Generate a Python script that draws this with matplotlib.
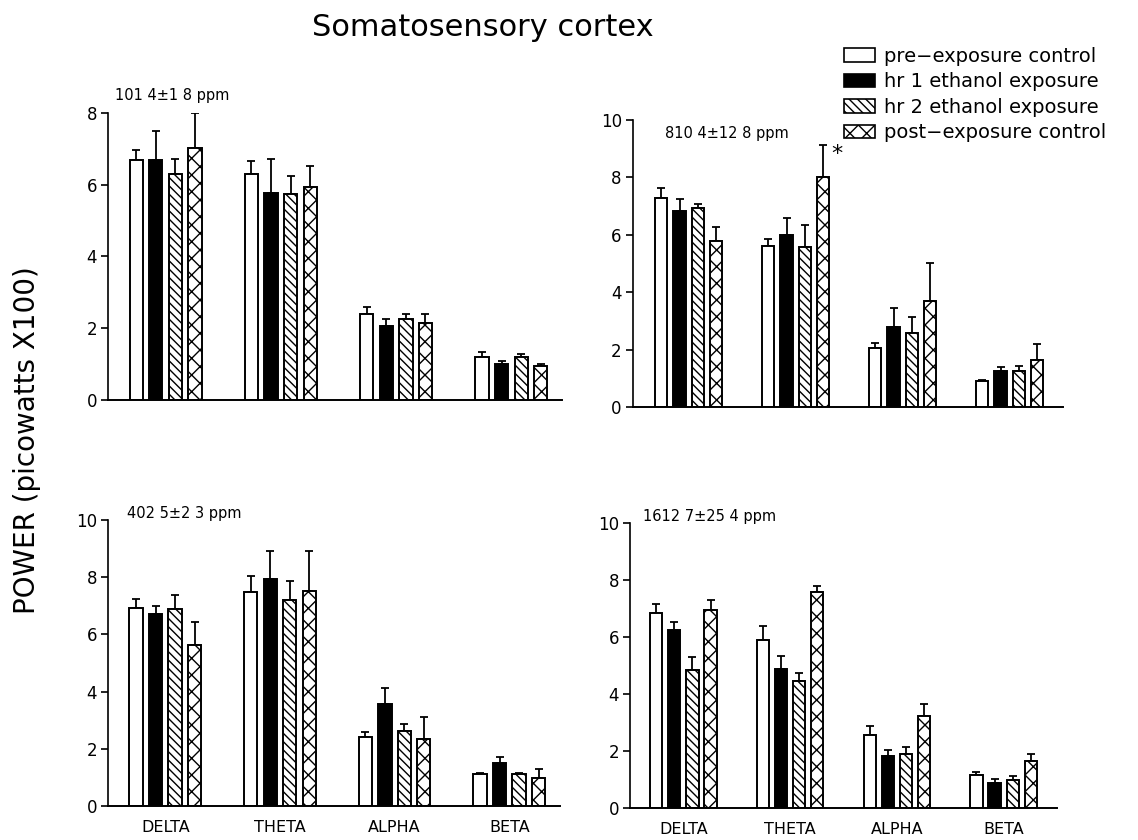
import numpy as np
import matplotlib
matplotlib.use('Agg')
import matplotlib.pyplot as plt
from matplotlib.patches import Patch

########## Data ##########
bands = ['DELTA', 'THETA', 'ALPHA', 'BETA']
conditions = ['pre\u2212exposure control', 'hr 1 ethanol exposure',
              'hr 2 ethanol exposure', 'post\u2212exposure control']
doses = ['101 4\u00b11 8 ppm', '810 4\u00b112 8 ppm', '402 5\u00b12 3 ppm', '1612 7\u00b125 4 ppm']

# mean (rows = condition, cols = band) and top of error bar
mean_101 = [[6.70, 6.29, 2.40, 1.21],
            [6.70, 5.77, 2.07, 0.99],
            [6.31, 5.73, 2.25, 1.21],
            [7.02, 5.93, 2.16, 0.95]]
top_101 = [[6.96, 6.67, 2.59, 1.34],
           [7.49, 6.73, 2.27, 1.10],
           [6.72, 6.23, 2.39, 1.28],
           [8.00, 6.51, 2.40, 0.99]]

mean_810 = [[7.29, 5.60, 2.07, 0.90],
            [6.83, 5.99, 2.78, 1.24],
            [6.94, 5.58, 2.59, 1.24],
            [5.78, 8.02, 3.70, 1.63]]
top_810 = [[7.62, 5.84, 2.23, 0.95],
           [7.24, 6.59, 3.45, 1.38],
           [7.07, 6.33, 3.14, 1.43],
           [6.26, 9.12, 5.02, 2.21]]

mean_402 = [[6.93, 7.47, 2.42, 1.11],
            [6.70, 7.93, 3.58, 1.49],
            [6.90, 7.19, 2.63, 1.12],
            [5.62, 7.53, 2.35, 0.99]]
top_402 = [[7.25, 8.05, 2.58, 1.15],
           [7.00, 8.92, 4.13, 1.72],
           [7.37, 7.88, 2.87, 1.14],
           [6.42, 8.92, 3.12, 1.28]]

mean_1612 = [[6.83, 5.91, 2.56, 1.15],
             [6.25, 4.88, 1.81, 0.88],
             [4.85, 4.44, 1.91, 0.97],
             [6.96, 7.59, 3.22, 1.64]]
top_1612 = [[7.17, 6.40, 2.89, 1.27],
            [6.54, 5.35, 2.05, 1.03],
            [5.30, 4.74, 2.13, 1.11],
            [7.31, 7.80, 3.66, 1.91]]

########## Style ##########
fills = ['white', 'black', 'white', 'white']
hatches = [None, None, '\\\\\\\\', 'xx']
plt.rcParams['hatch.linewidth'] = 1.0
plt.rcParams['font.family'] = 'DejaVu Sans'

########## Plot ##########
fig = plt.figure(figsize=(11.38, 8.4), dpi=100)

panels = [
    # rect, mean, top, ylim, yticks, dose label pos (axes fraction), xlim, band labels
    ([0.0949, 0.5238, 0.399, 0.3417], mean_101, top_101, 8, [0, 2, 4, 6, 8], doses[0], (0.016, 1.035), (-0.5, 3.44), False),
    ([0.5562, 0.5155, 0.378, 0.3417], mean_810, top_810, 10, [0, 2, 4, 6, 8, 10], doses[1], (0.075, 0.925), (-0.52, 3.5), False),
    ([0.0949, 0.0405, 0.397, 0.3405], mean_402, top_402, 10, [0, 2, 4, 6, 8, 10], doses[2], (0.042, 0.995), (-0.5, 3.44), True),
    ([0.5536, 0.0381, 0.3752, 0.3393], mean_1612, top_1612, 10, [0, 2, 4, 6, 8, 10], doses[3], (0.03, 0.995), (-0.5, 3.5), True),
]

x = np.arange(len(bands))
step = 0.17
width = 0.115

for rect, mean, top, ymax, yt, dose, dpos, xl, show_bands in panels:
    ax = fig.add_axes(rect)
    mean = np.array(mean)
    top = np.array(top)
    for k in range(len(conditions)):
        xx = x + (k - 1.5) * step
        ax.bar(xx, mean[k], width=width, color=fills[k], edgecolor='black',
               linewidth=1.4, hatch=hatches[k], zorder=2)
        ax.errorbar(xx, mean[k], yerr=[np.zeros(4), top[k] - mean[k]], fmt='none',
                    ecolor='black', elinewidth=1.3, capsize=3, capthick=1.3, zorder=1)
    ax.set_xlim(*xl)
    ax.set_ylim(0, ymax)
    ax.set_yticks(yt)
    ax.tick_params(axis='y', direction='out', length=5, width=1.2, labelsize=12, pad=3)
    if show_bands:
        ax.set_xticks(x)
        ax.set_xticklabels(bands, fontsize=11.5)
        ax.tick_params(axis='x', length=0, pad=10)
    else:
        ax.set_xticks([])
    for s in ['top', 'right']:
        ax.spines[s].set_visible(False)
    ax.spines['left'].set_linewidth(1.2)
    ax.spines['bottom'].set_linewidth(1.4)
    ax.text(dpos[0], dpos[1], dose, transform=ax.transAxes, fontsize=10.5,
            ha='left', va='bottom')
    if dose == doses[1]:
        ax.text(1 + 1.5 * step + 0.08, 8.45, '*', fontsize=16, ha='left', va='bottom')

fig.text(0.424, 0.967, 'Somatosensory cortex', fontsize=22, ha='center', va='center')
fig.text(0.024, 0.476, 'POWER (picowatts X100)', fontsize=20, rotation=90,
         ha='center', va='center')

handles = [Patch(facecolor=fills[k], edgecolor='black', hatch=hatches[k], linewidth=1.2)
           for k in range(len(conditions))]
fig.legend(handles, conditions, loc='upper left', bbox_to_anchor=(0.742, 0.944),
           frameon=False, fontsize=14, handlelength=1.55, handleheight=0.7,
           handletextpad=0.5, labelspacing=0.33, borderpad=0, borderaxespad=0)

fig.savefig('out.png', dpi=100)
